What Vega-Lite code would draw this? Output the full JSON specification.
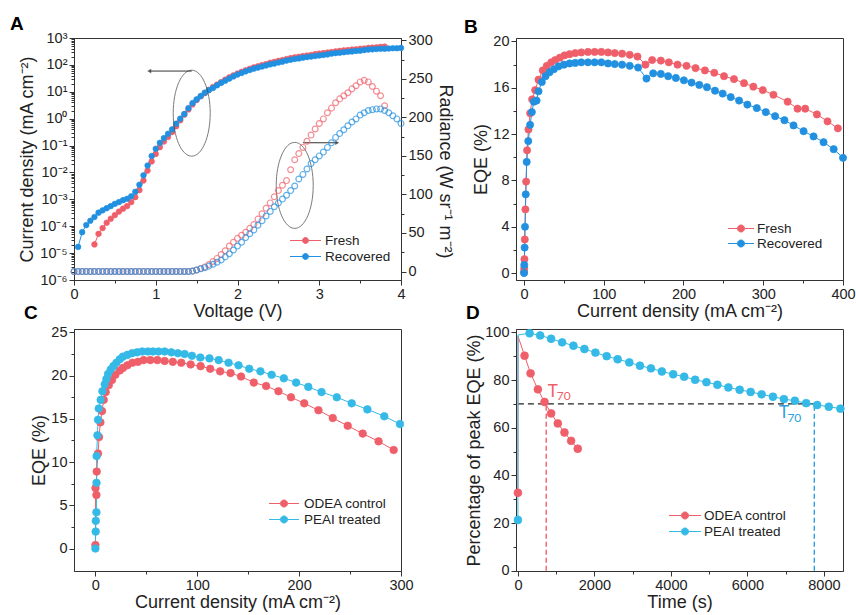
{
  "$schema": "https://vega.github.io/schema/vega-lite/v6.json",
  "padding": {"left": 9, "top": 14, "right": 5, "bottom": 5},
  "config": {
    "font": "Liberation Sans",
    "view": {"stroke": "#333", "strokeWidth": 1},
    "axis": {"labelFontSize": 14.5, "titleFontSize": 18, "titleFontWeight": "normal", "labelColor": "#222", "titleColor": "#222", "domainColor": "#333", "tickColor": "#333", "grid": false, "tickSize": 5, "labelPadding": 2, "titlePadding": 2, "labelFont": "Liberation Sans", "titleFont": "Liberation Sans", "labelFlush": false, "labelOverlap": false},
    "legend": {"labelFontSize": 13.5, "labelFont": "Liberation Sans", "labelColor": "#222"},
    "title": {"anchor": "start", "frame": "group", "fontSize": 19, "fontWeight": "bold", "font": "Liberation Sans", "color": "#000", "offset": 7}
  },
  "datasets": {
    "aJ": [
      {"V":0.25,"J":2.1e-5,"s":"Fresh"},{"V":0.3,"J":5.2e-5,"s":"Fresh"},{"V":0.35,"J":8.5e-5,"s":"Fresh"},{"V":0.4,"J":1.35e-4,"s":"Fresh"},{"V":0.45,"J":1.9e-4,"s":"Fresh"},{"V":0.5,"J":2.6e-4,"s":"Fresh"},{"V":0.55,"J":3.5e-4,"s":"Fresh"},{"V":0.6,"J":4.5e-4,"s":"Fresh"},{"V":0.65,"J":5.6e-4,"s":"Fresh"},{"V":0.7,"J":7.9e-4,"s":"Fresh"},{"V":0.75,"J":1.2e-3,"s":"Fresh"},{"V":0.8,"J":2.2e-3,"s":"Fresh"},{"V":0.85,"J":5.0e-3,"s":"Fresh"},{"V":0.9,"J":0.0117,"s":"Fresh"},{"V":0.95,"J":0.0257,"s":"Fresh"},{"V":1.0,"J":0.049,"s":"Fresh"},{"V":1.05,"J":0.087,"s":"Fresh"},{"V":1.1,"J":0.141,"s":"Fresh"},{"V":1.15,"J":0.209,"s":"Fresh"},{"V":1.2,"J":0.316,"s":"Fresh"},{"V":1.25,"J":0.525,"s":"Fresh"},{"V":1.3,"J":0.87,"s":"Fresh"},{"V":1.35,"J":1.41,"s":"Fresh"},{"V":1.4,"J":2.19,"s":"Fresh"},{"V":1.45,"J":3.39,"s":"Fresh"},{"V":1.5,"J":4.9,"s":"Fresh"},{"V":1.55,"J":6.8,"s":"Fresh"},{"V":1.6,"J":8.9,"s":"Fresh"},{"V":1.65,"J":11.7,"s":"Fresh"},{"V":1.7,"J":15.1,"s":"Fresh"},{"V":1.75,"J":18.6,"s":"Fresh"},{"V":1.8,"J":22.9,"s":"Fresh"},{"V":1.85,"J":28.2,"s":"Fresh"},{"V":1.9,"J":34.7,"s":"Fresh"},{"V":1.95,"J":40.7,"s":"Fresh"},{"V":2.0,"J":47.9,"s":"Fresh"},{"V":2.05,"J":55,"s":"Fresh"},{"V":2.1,"J":63,"s":"Fresh"},{"V":2.15,"J":72,"s":"Fresh"},{"V":2.2,"J":81,"s":"Fresh"},{"V":2.25,"J":89,"s":"Fresh"},{"V":2.3,"J":98,"s":"Fresh"},{"V":2.35,"J":107,"s":"Fresh"},{"V":2.4,"J":120,"s":"Fresh"},{"V":2.45,"J":129,"s":"Fresh"},{"V":2.5,"J":141,"s":"Fresh"},{"V":2.55,"J":151,"s":"Fresh"},{"V":2.6,"J":166,"s":"Fresh"},{"V":2.65,"J":178,"s":"Fresh"},{"V":2.7,"J":191,"s":"Fresh"},{"V":2.75,"J":200,"s":"Fresh"},{"V":2.8,"J":214,"s":"Fresh"},{"V":2.85,"J":224,"s":"Fresh"},{"V":2.9,"J":234,"s":"Fresh"},{"V":2.95,"J":251,"s":"Fresh"},{"V":3.0,"J":263,"s":"Fresh"},{"V":3.05,"J":275,"s":"Fresh"},{"V":3.1,"J":288,"s":"Fresh"},{"V":3.15,"J":302,"s":"Fresh"},{"V":3.2,"J":316,"s":"Fresh"},{"V":3.25,"J":331,"s":"Fresh"},{"V":3.3,"J":347,"s":"Fresh"},{"V":3.35,"J":355,"s":"Fresh"},{"V":3.4,"J":372,"s":"Fresh"},{"V":3.45,"J":380,"s":"Fresh"},{"V":3.5,"J":398,"s":"Fresh"},{"V":3.55,"J":407,"s":"Fresh"},{"V":3.6,"J":427,"s":"Fresh"},{"V":3.65,"J":437,"s":"Fresh"},{"V":3.7,"J":447,"s":"Fresh"},{"V":3.75,"J":468,"s":"Fresh"},{"V":3.8,"J":479,"s":"Fresh"},
      {"V":0.05,"J":1.7e-5,"s":"Recovered"},{"V":0.1,"J":6.0e-5,"s":"Recovered"},{"V":0.15,"J":1.1e-4,"s":"Recovered"},{"V":0.2,"J":1.6e-4,"s":"Recovered"},{"V":0.25,"J":2.2e-4,"s":"Recovered"},{"V":0.3,"J":3.2e-4,"s":"Recovered"},{"V":0.35,"J":3.9e-4,"s":"Recovered"},{"V":0.4,"J":4.7e-4,"s":"Recovered"},{"V":0.45,"J":5.6e-4,"s":"Recovered"},{"V":0.5,"J":6.8e-4,"s":"Recovered"},{"V":0.55,"J":7.9e-4,"s":"Recovered"},{"V":0.6,"J":9.3e-4,"s":"Recovered"},{"V":0.65,"J":1.05e-3,"s":"Recovered"},{"V":0.7,"J":1.3e-3,"s":"Recovered"},{"V":0.75,"J":1.9e-3,"s":"Recovered"},{"V":0.8,"J":3.5e-3,"s":"Recovered"},{"V":0.85,"J":7.8e-3,"s":"Recovered"},{"V":0.9,"J":0.018,"s":"Recovered"},{"V":0.95,"J":0.041,"s":"Recovered"},{"V":1.0,"J":0.076,"s":"Recovered"},{"V":1.05,"J":0.126,"s":"Recovered"},{"V":1.1,"J":0.19,"s":"Recovered"},{"V":1.15,"J":0.275,"s":"Recovered"},{"V":1.2,"J":0.4,"s":"Recovered"},{"V":1.25,"J":0.65,"s":"Recovered"},{"V":1.3,"J":1.0,"s":"Recovered"},{"V":1.35,"J":1.5,"s":"Recovered"},{"V":1.4,"J":2.45,"s":"Recovered"},{"V":1.45,"J":3.8,"s":"Recovered"},{"V":1.5,"J":5.2,"s":"Recovered"},{"V":1.55,"J":6.9,"s":"Recovered"},{"V":1.6,"J":9.3,"s":"Recovered"},{"V":1.65,"J":11.5,"s":"Recovered"},{"V":1.7,"J":13.8,"s":"Recovered"},{"V":1.75,"J":17.4,"s":"Recovered"},{"V":1.8,"J":21.4,"s":"Recovered"},{"V":1.85,"J":25.7,"s":"Recovered"},{"V":1.9,"J":30.9,"s":"Recovered"},{"V":1.95,"J":37.2,"s":"Recovered"},{"V":2.0,"J":43.7,"s":"Recovered"},{"V":2.05,"J":50,"s":"Recovered"},{"V":2.1,"J":57.5,"s":"Recovered"},{"V":2.15,"J":64.6,"s":"Recovered"},{"V":2.2,"J":72.4,"s":"Recovered"},{"V":2.25,"J":79.4,"s":"Recovered"},{"V":2.3,"J":87.1,"s":"Recovered"},{"V":2.35,"J":95.5,"s":"Recovered"},{"V":2.4,"J":104.7,"s":"Recovered"},{"V":2.45,"J":112,"s":"Recovered"},{"V":2.5,"J":123,"s":"Recovered"},{"V":2.55,"J":132,"s":"Recovered"},{"V":2.6,"J":145,"s":"Recovered"},{"V":2.65,"J":155,"s":"Recovered"},{"V":2.7,"J":166,"s":"Recovered"},{"V":2.75,"J":174,"s":"Recovered"},{"V":2.8,"J":186,"s":"Recovered"},{"V":2.85,"J":195,"s":"Recovered"},{"V":2.9,"J":204,"s":"Recovered"},{"V":2.95,"J":214,"s":"Recovered"},{"V":3.0,"J":224,"s":"Recovered"},{"V":3.05,"J":234,"s":"Recovered"},{"V":3.1,"J":245,"s":"Recovered"},{"V":3.15,"J":263,"s":"Recovered"},{"V":3.2,"J":275,"s":"Recovered"},{"V":3.25,"J":282,"s":"Recovered"},{"V":3.3,"J":295,"s":"Recovered"},{"V":3.35,"J":309,"s":"Recovered"},{"V":3.4,"J":316,"s":"Recovered"},{"V":3.45,"J":331,"s":"Recovered"},{"V":3.5,"J":339,"s":"Recovered"},{"V":3.55,"J":355,"s":"Recovered"},{"V":3.6,"J":372,"s":"Recovered"},{"V":3.65,"J":380,"s":"Recovered"},{"V":3.7,"J":389,"s":"Recovered"},{"V":3.75,"J":398,"s":"Recovered"},{"V":3.8,"J":398,"s":"Recovered"},{"V":3.85,"J":407,"s":"Recovered"},{"V":3.9,"J":417,"s":"Recovered"},{"V":3.95,"J":417,"s":"Recovered"},{"V":4.0,"J":427,"s":"Recovered"}
    ],
    "aR": [
      {"V":0,"R":0,"s":"Fresh"},{"V":0.05,"R":0,"s":"Fresh"},{"V":0.1,"R":0,"s":"Fresh"},{"V":0.15,"R":0,"s":"Fresh"},{"V":0.2,"R":0,"s":"Fresh"},{"V":0.25,"R":0,"s":"Fresh"},{"V":0.3,"R":0,"s":"Fresh"},{"V":0.35,"R":0,"s":"Fresh"},{"V":0.4,"R":0,"s":"Fresh"},{"V":0.45,"R":0,"s":"Fresh"},{"V":0.5,"R":0,"s":"Fresh"},{"V":0.55,"R":0,"s":"Fresh"},{"V":0.6,"R":0,"s":"Fresh"},{"V":0.65,"R":0,"s":"Fresh"},{"V":0.7,"R":0,"s":"Fresh"},{"V":0.75,"R":0,"s":"Fresh"},{"V":0.8,"R":0,"s":"Fresh"},{"V":0.85,"R":0,"s":"Fresh"},{"V":0.9,"R":0,"s":"Fresh"},{"V":0.95,"R":0,"s":"Fresh"},{"V":1.0,"R":0,"s":"Fresh"},{"V":1.05,"R":0,"s":"Fresh"},{"V":1.1,"R":0,"s":"Fresh"},{"V":1.15,"R":0,"s":"Fresh"},{"V":1.2,"R":0,"s":"Fresh"},{"V":1.25,"R":0,"s":"Fresh"},{"V":1.3,"R":0,"s":"Fresh"},{"V":1.35,"R":0,"s":"Fresh"},{"V":1.4,"R":0,"s":"Fresh"},{"V":1.45,"R":0.5,"s":"Fresh"},{"V":1.5,"R":2,"s":"Fresh"},{"V":1.55,"R":4,"s":"Fresh"},{"V":1.6,"R":6,"s":"Fresh"},{"V":1.65,"R":9,"s":"Fresh"},{"V":1.7,"R":13,"s":"Fresh"},{"V":1.75,"R":17,"s":"Fresh"},{"V":1.8,"R":22,"s":"Fresh"},{"V":1.85,"R":27,"s":"Fresh"},{"V":1.9,"R":33,"s":"Fresh"},{"V":1.95,"R":38,"s":"Fresh"},{"V":2.0,"R":43,"s":"Fresh"},{"V":2.05,"R":47,"s":"Fresh"},{"V":2.1,"R":51,"s":"Fresh"},{"V":2.15,"R":56,"s":"Fresh"},{"V":2.2,"R":61,"s":"Fresh"},{"V":2.25,"R":68,"s":"Fresh"},{"V":2.3,"R":75,"s":"Fresh"},{"V":2.35,"R":82,"s":"Fresh"},{"V":2.4,"R":89,"s":"Fresh"},{"V":2.45,"R":97,"s":"Fresh"},{"V":2.5,"R":105,"s":"Fresh"},{"V":2.55,"R":112,"s":"Fresh"},{"V":2.6,"R":118,"s":"Fresh"},{"V":2.65,"R":132,"s":"Fresh"},{"V":2.7,"R":145,"s":"Fresh"},{"V":2.75,"R":153,"s":"Fresh"},{"V":2.8,"R":161,"s":"Fresh"},{"V":2.85,"R":169,"s":"Fresh"},{"V":2.9,"R":177,"s":"Fresh"},{"V":2.95,"R":185,"s":"Fresh"},{"V":3.0,"R":192,"s":"Fresh"},{"V":3.05,"R":198,"s":"Fresh"},{"V":3.1,"R":206,"s":"Fresh"},{"V":3.15,"R":212,"s":"Fresh"},{"V":3.2,"R":219,"s":"Fresh"},{"V":3.25,"R":224,"s":"Fresh"},{"V":3.3,"R":228,"s":"Fresh"},{"V":3.35,"R":232,"s":"Fresh"},{"V":3.4,"R":237,"s":"Fresh"},{"V":3.45,"R":241,"s":"Fresh"},{"V":3.5,"R":246,"s":"Fresh"},{"V":3.55,"R":248,"s":"Fresh"},{"V":3.6,"R":246,"s":"Fresh"},{"V":3.65,"R":240,"s":"Fresh"},{"V":3.7,"R":234,"s":"Fresh"},{"V":3.75,"R":228,"s":"Fresh"},{"V":3.8,"R":215,"s":"Fresh"},
      {"V":0,"R":0,"s":"Recovered"},{"V":0.05,"R":0,"s":"Recovered"},{"V":0.1,"R":0,"s":"Recovered"},{"V":0.15,"R":0,"s":"Recovered"},{"V":0.2,"R":0,"s":"Recovered"},{"V":0.25,"R":0,"s":"Recovered"},{"V":0.3,"R":0,"s":"Recovered"},{"V":0.35,"R":0,"s":"Recovered"},{"V":0.4,"R":0,"s":"Recovered"},{"V":0.45,"R":0,"s":"Recovered"},{"V":0.5,"R":0,"s":"Recovered"},{"V":0.55,"R":0,"s":"Recovered"},{"V":0.6,"R":0,"s":"Recovered"},{"V":0.65,"R":0,"s":"Recovered"},{"V":0.7,"R":0,"s":"Recovered"},{"V":0.75,"R":0,"s":"Recovered"},{"V":0.8,"R":0,"s":"Recovered"},{"V":0.85,"R":0,"s":"Recovered"},{"V":0.9,"R":0,"s":"Recovered"},{"V":0.95,"R":0,"s":"Recovered"},{"V":1.0,"R":0,"s":"Recovered"},{"V":1.05,"R":0,"s":"Recovered"},{"V":1.1,"R":0,"s":"Recovered"},{"V":1.15,"R":0,"s":"Recovered"},{"V":1.2,"R":0,"s":"Recovered"},{"V":1.25,"R":0,"s":"Recovered"},{"V":1.3,"R":0,"s":"Recovered"},{"V":1.35,"R":0,"s":"Recovered"},{"V":1.4,"R":0,"s":"Recovered"},{"V":1.45,"R":0.5,"s":"Recovered"},{"V":1.5,"R":2,"s":"Recovered"},{"V":1.55,"R":3.5,"s":"Recovered"},{"V":1.6,"R":5,"s":"Recovered"},{"V":1.65,"R":7,"s":"Recovered"},{"V":1.7,"R":9.5,"s":"Recovered"},{"V":1.75,"R":12,"s":"Recovered"},{"V":1.8,"R":15,"s":"Recovered"},{"V":1.85,"R":19,"s":"Recovered"},{"V":1.9,"R":23,"s":"Recovered"},{"V":1.95,"R":28,"s":"Recovered"},{"V":2.0,"R":33,"s":"Recovered"},{"V":2.05,"R":38,"s":"Recovered"},{"V":2.1,"R":44,"s":"Recovered"},{"V":2.15,"R":49,"s":"Recovered"},{"V":2.2,"R":54,"s":"Recovered"},{"V":2.25,"R":60,"s":"Recovered"},{"V":2.3,"R":66,"s":"Recovered"},{"V":2.35,"R":72,"s":"Recovered"},{"V":2.4,"R":78,"s":"Recovered"},{"V":2.45,"R":84,"s":"Recovered"},{"V":2.5,"R":89,"s":"Recovered"},{"V":2.55,"R":94,"s":"Recovered"},{"V":2.6,"R":99,"s":"Recovered"},{"V":2.65,"R":105,"s":"Recovered"},{"V":2.7,"R":111,"s":"Recovered"},{"V":2.75,"R":120,"s":"Recovered"},{"V":2.8,"R":126,"s":"Recovered"},{"V":2.85,"R":133,"s":"Recovered"},{"V":2.9,"R":140,"s":"Recovered"},{"V":2.95,"R":145,"s":"Recovered"},{"V":3.0,"R":150,"s":"Recovered"},{"V":3.05,"R":155,"s":"Recovered"},{"V":3.1,"R":161,"s":"Recovered"},{"V":3.15,"R":167,"s":"Recovered"},{"V":3.2,"R":174,"s":"Recovered"},{"V":3.25,"R":179,"s":"Recovered"},{"V":3.3,"R":184,"s":"Recovered"},{"V":3.35,"R":189,"s":"Recovered"},{"V":3.4,"R":194,"s":"Recovered"},{"V":3.45,"R":198,"s":"Recovered"},{"V":3.5,"R":203,"s":"Recovered"},{"V":3.55,"R":206,"s":"Recovered"},{"V":3.6,"R":209,"s":"Recovered"},{"V":3.65,"R":210,"s":"Recovered"},{"V":3.7,"R":211,"s":"Recovered"},{"V":3.75,"R":211,"s":"Recovered"},{"V":3.8,"R":209,"s":"Recovered"},{"V":3.85,"R":206,"s":"Recovered"},{"V":3.9,"R":202,"s":"Recovered"},{"V":3.95,"R":198,"s":"Recovered"},{"V":4.0,"R":192,"s":"Recovered"}
    ],
    "b": [
      {"j":0.1,"e":0.1,"s":"Fresh"},{"j":0.3,"e":0.4,"s":"Fresh"},{"j":0.6,"e":1.2,"s":"Fresh"},{"j":1.0,"e":2.9,"s":"Fresh"},{"j":1.8,"e":5.5,"s":"Fresh"},{"j":2.7,"e":7.9,"s":"Fresh"},{"j":3.9,"e":10.6,"s":"Fresh"},{"j":5.6,"e":12.4,"s":"Fresh"},{"j":7.7,"e":13.8,"s":"Fresh"},{"j":10.2,"e":15.0,"s":"Fresh"},{"j":14.0,"e":15.8,"s":"Fresh"},{"j":18.2,"e":16.7,"s":"Fresh"},{"j":23.6,"e":17.5,"s":"Fresh"},{"j":28.6,"e":17.9,"s":"Fresh"},{"j":34.2,"e":18.2,"s":"Fresh"},{"j":39.2,"e":18.4,"s":"Fresh"},{"j":45,"e":18.6,"s":"Fresh"},{"j":50.9,"e":18.8,"s":"Fresh"},{"j":57.2,"e":18.9,"s":"Fresh"},{"j":64.3,"e":19.0,"s":"Fresh"},{"j":71.8,"e":19.05,"s":"Fresh"},{"j":80.2,"e":19.1,"s":"Fresh"},{"j":88.6,"e":19.1,"s":"Fresh"},{"j":97,"e":19.1,"s":"Fresh"},{"j":105.4,"e":19.05,"s":"Fresh"},{"j":113.8,"e":19.0,"s":"Fresh"},{"j":123,"e":18.95,"s":"Fresh"},{"j":132.6,"e":18.85,"s":"Fresh"},{"j":142.3,"e":18.7,"s":"Fresh"},{"j":152.3,"e":18.0,"s":"Fresh"},{"j":160.7,"e":18.4,"s":"Fresh"},{"j":171.6,"e":18.35,"s":"Fresh"},{"j":181.6,"e":18.2,"s":"Fresh"},{"j":192.5,"e":18.0,"s":"Fresh"},{"j":203.8,"e":17.9,"s":"Fresh"},{"j":215.1,"e":17.7,"s":"Fresh"},{"j":226.9,"e":17.5,"s":"Fresh"},{"j":238.6,"e":17.3,"s":"Fresh"},{"j":250.8,"e":17.0,"s":"Fresh"},{"j":263.3,"e":16.75,"s":"Fresh"},{"j":275.9,"e":16.4,"s":"Fresh"},{"j":287.6,"e":16.1,"s":"Fresh"},{"j":299.4,"e":15.8,"s":"Fresh"},{"j":312.8,"e":15.4,"s":"Fresh"},{"j":330.6,"e":14.8,"s":"Fresh"},{"j":343,"e":14.2,"s":"Fresh"},{"j":352.6,"e":14.2,"s":"Fresh"},{"j":367.3,"e":13.7,"s":"Fresh"},{"j":380.6,"e":13.1,"s":"Fresh"},{"j":393.6,"e":12.5,"s":"Fresh"},
      {"j":0.1,"e":0,"s":"Recovered"},{"j":0.4,"e":0.7,"s":"Recovered"},{"j":0.8,"e":2.2,"s":"Recovered"},{"j":1.3,"e":4.0,"s":"Recovered"},{"j":2.2,"e":6.8,"s":"Recovered"},{"j":3.4,"e":9.6,"s":"Recovered"},{"j":5.4,"e":11.4,"s":"Recovered"},{"j":7.7,"e":12.8,"s":"Recovered"},{"j":9.9,"e":13.9,"s":"Recovered"},{"j":12.4,"e":14.8,"s":"Recovered"},{"j":15.8,"e":14.9,"s":"Recovered"},{"j":18.2,"e":15.7,"s":"Recovered"},{"j":22.4,"e":16.5,"s":"Recovered"},{"j":27,"e":17.0,"s":"Recovered"},{"j":32.1,"e":17.35,"s":"Recovered"},{"j":37.5,"e":17.6,"s":"Recovered"},{"j":43.4,"e":17.85,"s":"Recovered"},{"j":50.1,"e":18.0,"s":"Recovered"},{"j":57.2,"e":18.1,"s":"Recovered"},{"j":64.3,"e":18.15,"s":"Recovered"},{"j":71.8,"e":18.2,"s":"Recovered"},{"j":80.2,"e":18.2,"s":"Recovered"},{"j":88.6,"e":18.2,"s":"Recovered"},{"j":97,"e":18.2,"s":"Recovered"},{"j":105.4,"e":18.1,"s":"Recovered"},{"j":113.8,"e":18.05,"s":"Recovered"},{"j":123,"e":18.0,"s":"Recovered"},{"j":132.6,"e":17.9,"s":"Recovered"},{"j":143.1,"e":17.75,"s":"Recovered"},{"j":153.6,"e":16.8,"s":"Recovered"},{"j":162,"e":17.25,"s":"Recovered"},{"j":171.6,"e":17.2,"s":"Recovered"},{"j":180.8,"e":17.0,"s":"Recovered"},{"j":190.4,"e":16.85,"s":"Recovered"},{"j":200.5,"e":16.65,"s":"Recovered"},{"j":210.1,"e":16.45,"s":"Recovered"},{"j":219.8,"e":16.25,"s":"Recovered"},{"j":229.4,"e":16.05,"s":"Recovered"},{"j":239.5,"e":15.75,"s":"Recovered"},{"j":249.1,"e":15.5,"s":"Recovered"},{"j":259.2,"e":15.2,"s":"Recovered"},{"j":269.7,"e":14.9,"s":"Recovered"},{"j":280.1,"e":14.55,"s":"Recovered"},{"j":291.9,"e":14.25,"s":"Recovered"},{"j":303.2,"e":13.9,"s":"Recovered"},{"j":314.9,"e":13.55,"s":"Recovered"},{"j":326.6,"e":13.2,"s":"Recovered"},{"j":338,"e":12.75,"s":"Recovered"},{"j":350.6,"e":12.25,"s":"Recovered"},{"j":363.1,"e":11.8,"s":"Recovered"},{"j":375.6,"e":11.3,"s":"Recovered"},{"j":388.3,"e":10.7,"s":"Recovered"},{"j":400,"e":9.95,"s":"Recovered"}
    ],
    "c": [
      {"j":0,"e":0.4,"s":"ODEA control"},{"j":0.1,"e":7.0,"s":"ODEA control"},{"j":1,"e":6.2,"s":"ODEA control"},{"j":1.3,"e":8.9,"s":"ODEA control"},{"j":2.6,"e":11.0,"s":"ODEA control"},{"j":3.6,"e":12.9,"s":"ODEA control"},{"j":4.9,"e":14.6,"s":"ODEA control"},{"j":6.5,"e":15.9,"s":"ODEA control"},{"j":8.2,"e":17.2,"s":"ODEA control"},{"j":10.1,"e":18.1,"s":"ODEA control"},{"j":13.1,"e":18.9,"s":"ODEA control"},{"j":16.3,"e":19.5,"s":"ODEA control"},{"j":19.6,"e":20.1,"s":"ODEA control"},{"j":23.9,"e":20.6,"s":"ODEA control"},{"j":27.1,"e":20.9,"s":"ODEA control"},{"j":31.4,"e":21.2,"s":"ODEA control"},{"j":36.3,"e":21.5,"s":"ODEA control"},{"j":41.8,"e":21.6,"s":"ODEA control"},{"j":47.4,"e":21.8,"s":"ODEA control"},{"j":53.9,"e":21.8,"s":"ODEA control"},{"j":60.8,"e":21.8,"s":"ODEA control"},{"j":68,"e":21.7,"s":"ODEA control"},{"j":76,"e":21.6,"s":"ODEA control"},{"j":84.3,"e":21.5,"s":"ODEA control"},{"j":93.5,"e":21.3,"s":"ODEA control"},{"j":103.3,"e":21.1,"s":"ODEA control"},{"j":112.7,"e":20.8,"s":"ODEA control"},{"j":122.5,"e":20.5,"s":"ODEA control"},{"j":132.7,"e":20.3,"s":"ODEA control"},{"j":143,"e":19.9,"s":"ODEA control"},{"j":155.5,"e":19.2,"s":"ODEA control"},{"j":167.6,"e":18.8,"s":"ODEA control"},{"j":179.7,"e":18.2,"s":"ODEA control"},{"j":192,"e":17.5,"s":"ODEA control"},{"j":205,"e":16.8,"s":"ODEA control"},{"j":219,"e":16.0,"s":"ODEA control"},{"j":233,"e":15.1,"s":"ODEA control"},{"j":247.7,"e":14.2,"s":"ODEA control"},{"j":262.4,"e":13.3,"s":"ODEA control"},{"j":278,"e":12.4,"s":"ODEA control"},{"j":292.8,"e":11.4,"s":"ODEA control"},
      {"j":0,"e":0,"s":"PEAI treated"},{"j":0.3,"e":1.96,"s":"PEAI treated"},{"j":0.4,"e":3.2,"s":"PEAI treated"},{"j":1,"e":4.2,"s":"PEAI treated"},{"j":1.1,"e":7.6,"s":"PEAI treated"},{"j":1.2,"e":10.7,"s":"PEAI treated"},{"j":2,"e":13.1,"s":"PEAI treated"},{"j":2.6,"e":14.9,"s":"PEAI treated"},{"j":3.3,"e":16.2,"s":"PEAI treated"},{"j":5.2,"e":17.2,"s":"PEAI treated"},{"j":6.9,"e":18.2,"s":"PEAI treated"},{"j":9.2,"e":19.0,"s":"PEAI treated"},{"j":10.8,"e":19.6,"s":"PEAI treated"},{"j":12.4,"e":20.2,"s":"PEAI treated"},{"j":15,"e":20.7,"s":"PEAI treated"},{"j":17.6,"e":21.1,"s":"PEAI treated"},{"j":20.6,"e":21.5,"s":"PEAI treated"},{"j":23.9,"e":21.9,"s":"PEAI treated"},{"j":27,"e":22.2,"s":"PEAI treated"},{"j":31.4,"e":22.4,"s":"PEAI treated"},{"j":36,"e":22.6,"s":"PEAI treated"},{"j":41,"e":22.7,"s":"PEAI treated"},{"j":46,"e":22.8,"s":"PEAI treated"},{"j":51.6,"e":22.8,"s":"PEAI treated"},{"j":56.5,"e":22.8,"s":"PEAI treated"},{"j":62,"e":22.8,"s":"PEAI treated"},{"j":68,"e":22.8,"s":"PEAI treated"},{"j":74.5,"e":22.7,"s":"PEAI treated"},{"j":81,"e":22.6,"s":"PEAI treated"},{"j":87.6,"e":22.5,"s":"PEAI treated"},{"j":94.8,"e":22.3,"s":"PEAI treated"},{"j":103,"e":22.1,"s":"PEAI treated"},{"j":112,"e":22.0,"s":"PEAI treated"},{"j":121,"e":21.8,"s":"PEAI treated"},{"j":130.7,"e":21.5,"s":"PEAI treated"},{"j":140.5,"e":21.2,"s":"PEAI treated"},{"j":151,"e":20.8,"s":"PEAI treated"},{"j":162,"e":20.5,"s":"PEAI treated"},{"j":173,"e":20.1,"s":"PEAI treated"},{"j":185,"e":19.7,"s":"PEAI treated"},{"j":197,"e":19.2,"s":"PEAI treated"},{"j":209,"e":18.7,"s":"PEAI treated"},{"j":222,"e":18.1,"s":"PEAI treated"},{"j":237,"e":17.5,"s":"PEAI treated"},{"j":251.6,"e":16.8,"s":"PEAI treated"},{"j":267,"e":16.1,"s":"PEAI treated"},{"j":283.6,"e":15.3,"s":"PEAI treated"},{"j":299,"e":14.4,"s":"PEAI treated"}
    ],
    "d": [
      {"t":0,"p":32.7,"s":"ODEA control"},{"t":2,"p":98.4,"s":"ODEA control"},{"t":174,"p":90.2,"s":"ODEA control"},{"t":331,"p":82.8,"s":"ODEA control"},{"t":522,"p":76.1,"s":"ODEA control"},{"t":696,"p":70.8,"s":"ODEA control"},{"t":869,"p":66.0,"s":"ODEA control"},{"t":1043,"p":61.8,"s":"ODEA control"},{"t":1217,"p":58.0,"s":"ODEA control"},{"t":1391,"p":54.5,"s":"ODEA control"},{"t":1564,"p":51.2,"s":"ODEA control"},
      {"t":0,"p":21.3,"s":"PEAI treated"},{"t":3,"p":98.9,"s":"PEAI treated"},{"t":305,"p":99.6,"s":"PEAI treated"},{"t":582,"p":98.7,"s":"PEAI treated"},{"t":868,"p":97.3,"s":"PEAI treated"},{"t":1156,"p":95.8,"s":"PEAI treated"},{"t":1452,"p":94.4,"s":"PEAI treated"},{"t":1739,"p":93.0,"s":"PEAI treated"},{"t":2026,"p":91.5,"s":"PEAI treated"},{"t":2321,"p":90.0,"s":"PEAI treated"},{"t":2608,"p":88.7,"s":"PEAI treated"},{"t":2912,"p":87.4,"s":"PEAI treated"},{"t":3191,"p":86.0,"s":"PEAI treated"},{"t":3478,"p":84.9,"s":"PEAI treated"},{"t":3764,"p":83.6,"s":"PEAI treated"},{"t":4060,"p":82.4,"s":"PEAI treated"},{"t":4347,"p":81.4,"s":"PEAI treated"},{"t":4634,"p":80.1,"s":"PEAI treated"},{"t":4929,"p":79.1,"s":"PEAI treated"},{"t":5216,"p":78.0,"s":"PEAI treated"},{"t":5503,"p":76.9,"s":"PEAI treated"},{"t":5798,"p":75.9,"s":"PEAI treated"},{"t":6085,"p":75.0,"s":"PEAI treated"},{"t":6372,"p":74.0,"s":"PEAI treated"},{"t":6668,"p":73.0,"s":"PEAI treated"},{"t":6955,"p":72.0,"s":"PEAI treated"},{"t":7242,"p":71.3,"s":"PEAI treated"},{"t":7537,"p":70.3,"s":"PEAI treated"},{"t":7824,"p":69.5,"s":"PEAI treated"},{"t":8128,"p":68.8,"s":"PEAI treated"},{"t":8432,"p":68.0,"s":"PEAI treated"}
    ]
  },
  "columns": 2,
  "spacing": {"row": 49, "column": 115},
  "bounds": "flush",
  "resolve": {"scale": {"stroke": "independent", "fill": "independent"}, "legend": {"stroke": "independent", "fill": "independent"}},
  "concat": [
    {
      "width": 327, "height": 242,
      "title": {"text": "A", "dx": -64, "dy": 11},
      "layer": [
        {
          "layer": [
            {"data": {"name": "aJ"}, "mark": {"type": "line", "strokeWidth": 1},
             "encoding": {
               "x": {"field": "V", "type": "quantitative", "scale": {"domain": [0, 4], "nice": false}, "axis": {"orient": "bottom", "values": [0, 1, 2, 3, 4], "format": "d", "title": "Voltage (V)"}},
               "y": {"field": "J", "type": "quantitative", "scale": {"type": "log", "domain": [1e-6, 1000], "nice": false}, "axis": {"orient": "left", "values": [1e-6, 1e-5, 1e-4, 1e-3, 1e-2, 1e-1, 1, 10, 100, 1000], "labelExpr": "['10⁻⁶','10⁻⁵','10⁻⁴','10⁻³','10⁻²','10⁻¹','10⁰','10¹','10²','10³'][round(log(datum.value)/LN10)+6]", "title": "Current density (mA cm⁻²)", "titlePadding": 3}},
               "stroke": {"field": "s", "type": "nominal", "scale": {"domain": ["Fresh", "Recovered"], "range": ["#ef5f6a", "#2290e0"]},
                 "legend": {"orient": "none", "legendX": 223, "legendY": 194, "title": null, "symbolType": "M-1.94,0L-0.375,0M0.375,0L1.94,0M-0.375,0A0.375,0.375 0 1,1 0.375,0A0.375,0.375 0 1,1 -0.375,0Z", "symbolSize": 256, "symbolStrokeWidth": 1, "labelOffset": 11, "rowPadding": 1, "padding": 0}}
             }},
            {"data": {"name": "aJ"}, "mark": {"type": "point", "filled": true, "size": 32, "strokeWidth": 0.6, "opacity": 1},
             "encoding": {
               "x": {"field": "V", "type": "quantitative", "axis": null},
               "y": {"field": "J", "type": "quantitative", "axis": null},
               "fill": {"field": "s", "type": "nominal", "scale": {"domain": ["Fresh", "Recovered"], "range": ["#ef5f6a", "#2290e0"]},
                 "legend": {"orient": "none", "legendX": 223, "legendY": 194, "title": null, "symbolType": "M-1.94,0L-0.375,0M0.375,0L1.94,0M-0.375,0A0.375,0.375 0 1,1 0.375,0A0.375,0.375 0 1,1 -0.375,0Z", "symbolSize": 256, "symbolStrokeWidth": 1, "labelOffset": 11, "rowPadding": 1, "padding": 0}},
               "stroke": {"field": "s", "type": "nominal"}
             }},
            {"data": {"values": [{"V": 1.44, "J": 1.6}, {"V": 2.7, "J": 0.0033}]},
             "mark": {"type": "point", "shape": "M0,-1A0.43,1 0 1,1 0,1A0.43,1 0 1,1 0,-1Z", "size": 7396, "filled": false, "stroke": "#444", "strokeWidth": 1},
             "encoding": {"x": {"field": "V", "type": "quantitative", "axis": null}, "y": {"field": "J", "type": "quantitative", "axis": null}}},
            {"data": {"values": [{"V1": 0.92, "V2": 1.44, "J": 59}, {"V1": 2.8, "V2": 3.22, "J": 0.127}]},
             "mark": {"type": "rule", "stroke": "#333", "strokeWidth": 1},
             "encoding": {"x": {"field": "V1", "type": "quantitative", "axis": null}, "x2": {"field": "V2"}, "y": {"field": "J", "type": "quantitative", "axis": null}}},
            {"data": {"values": [{"V": 0.92, "J": 59}]},
             "mark": {"type": "point", "shape": "triangle-left", "filled": true, "fill": "#333", "size": 22},
             "encoding": {"x": {"field": "V", "type": "quantitative", "axis": null}, "y": {"field": "J", "type": "quantitative", "axis": null}}},
            {"data": {"values": [{"V": 3.22, "J": 0.127}]},
             "mark": {"type": "point", "shape": "triangle-right", "filled": true, "fill": "#333", "size": 22},
             "encoding": {"x": {"field": "V", "type": "quantitative", "axis": null}, "y": {"field": "J", "type": "quantitative", "axis": null}}},
            {"data": {"values": [{"V": 2, "J": 1}]},
             "mark": {"type": "point", "opacity": 0},
             "encoding": {"x": {"field": "V", "type": "quantitative", "axis": {"orient": "bottom", "values": [0.5, 1.5, 2.5, 3.5], "labels": false, "domain": false, "tickSize": 3, "title": null}},
               "y": {"field": "J", "type": "quantitative", "axis": {"orient": "left", "values": [2e-6,3e-6,4e-6,5e-6,6e-6,7e-6,8e-6,9e-6,2e-5,3e-5,4e-5,5e-5,6e-5,7e-5,8e-5,9e-5,2e-4,3e-4,4e-4,5e-4,6e-4,7e-4,8e-4,9e-4,2e-3,3e-3,4e-3,5e-3,6e-3,7e-3,8e-3,9e-3,0.02,0.03,0.04,0.05,0.06,0.07,0.08,0.09,0.2,0.3,0.4,0.5,0.6,0.7,0.8,0.9,2,3,4,5,6,7,8,9,20,30,40,50,60,70,80,90,200,300,400,500,600,700,800,900], "labels": false, "domain": false, "tickSize": 3, "title": null}}}}
          ],
          "resolve": {"axis": {"x": "independent", "y": "independent"}}
        },
        {
          "layer": [
            {"data": {"name": "aR"},
             "mark": {"type": "point", "filled": false, "size": 34, "strokeWidth": 1.2},
             "encoding": {
               "x": {"field": "V", "type": "quantitative", "axis": null},
               "y": {"field": "R", "type": "quantitative", "scale": {"domain": [-11, 303], "nice": false, "zero": false}, "axis": {"orient": "right", "values": [0, 50, 100, 150, 200, 250, 300], "title": "Radiance (W sr⁻¹ m⁻²)", "titlePadding": 3, "titleY": 133}},
               "stroke": {"field": "s", "type": "nominal"}
             }},
            {"data": {"values": [{"V": 2, "R": 100}]},
             "mark": {"type": "point", "opacity": 0},
             "encoding": {"x": {"field": "V", "type": "quantitative", "axis": null},
               "y": {"field": "R", "type": "quantitative", "axis": {"orient": "right", "values": [25, 75, 125, 175, 225, 275], "labels": false, "domain": false, "tickSize": 3, "title": null}}}}
          ],
          "resolve": {"axis": {"y": "independent"}}
        }
      ],
      "resolve": {"scale": {"y": "independent"}}
    },
    {
      "width": 327, "height": 242,
      "title": {"text": "B", "dx": -52, "dy": 11},
      "data": {"name": "b"},
      "layer": [
        {"mark": {"type": "line", "strokeWidth": 1},
         "encoding": {
           "x": {"field": "j", "type": "quantitative", "scale": {"domain": [-10, 400], "nice": false}, "axis": {"orient": "bottom", "values": [0, 100, 200, 300, 400], "title": "Current density (mA cm⁻²)"}},
           "y": {"field": "e", "type": "quantitative", "scale": {"domain": [-0.6, 20.3], "nice": false}, "axis": {"orient": "left", "values": [0, 4, 8, 12, 16, 20], "title": "EQE (%)", "titlePadding": 2}},
           "stroke": {"field": "s", "type": "nominal", "scale": {"domain": ["Fresh", "Recovered"], "range": ["#ef5f6a", "#2290e0"]},
             "legend": {"orient": "none", "legendX": 217.5, "legendY": 183, "title": null, "symbolType": "M-1.86,0L-0.5,0M0.5,0L1.86,0M-0.5,0A0.5,0.5 0 1,1 0.5,0A0.5,0.5 0 1,1 -0.5,0Z", "symbolSize": 196, "symbolStrokeWidth": 1, "labelOffset": 8.5, "rowPadding": 1, "padding": 0}}
         }},
        {"mark": {"type": "point", "filled": true, "size": 52, "strokeWidth": 0.7, "opacity": 1},
         "encoding": {
           "x": {"field": "j", "type": "quantitative", "axis": null},
           "y": {"field": "e", "type": "quantitative", "axis": null},
           "fill": {"field": "s", "type": "nominal", "scale": {"domain": ["Fresh", "Recovered"], "range": ["#ef5f6a", "#2290e0"]},
             "legend": {"orient": "none", "legendX": 217.5, "legendY": 183, "title": null, "symbolType": "M-1.86,0L-0.5,0M0.5,0L1.86,0M-0.5,0A0.5,0.5 0 1,1 0.5,0A0.5,0.5 0 1,1 -0.5,0Z", "symbolSize": 196, "symbolStrokeWidth": 1, "labelOffset": 8.5, "rowPadding": 1, "padding": 0}},
           "stroke": {"field": "s", "type": "nominal"}
         }},
        {"mark": {"type": "point", "opacity": 0},
         "encoding": {
           "x": {"field": "j", "type": "quantitative", "axis": {"orient": "bottom", "values": [50, 150, 250, 350], "labels": false, "domain": false, "tickSize": 3, "title": null}},
           "y": {"field": "e", "type": "quantitative", "axis": {"orient": "left", "values": [2, 6, 10, 14, 18], "labels": false, "domain": false, "tickSize": 3, "title": null}}
         }}
      ],
      "resolve": {"axis": {"x": "independent", "y": "independent"}}
    },
    {
      "width": 327, "height": 242,
      "title": {"text": "C", "dx": -50, "dy": 6},
      "data": {"name": "c"},
      "layer": [
        {"mark": {"type": "line", "strokeWidth": 1},
         "encoding": {
           "x": {"field": "j", "type": "quantitative", "scale": {"domain": [-21, 300], "nice": false}, "axis": {"orient": "bottom", "values": [0, 100, 200, 300], "title": "Current density (mA cm⁻²)"}},
           "y": {"field": "e", "type": "quantitative", "scale": {"domain": [-2.6, 25.4], "nice": false}, "axis": {"orient": "left", "values": [0, 5, 10, 15, 20, 25], "title": "EQE (%)"}},
           "stroke": {"field": "s", "type": "nominal", "scale": {"domain": ["ODEA control", "PEAI treated"], "range": ["#ef5f6a", "#35b9e6"]},
             "legend": {"orient": "none", "legendX": 201.5, "legendY": 166, "title": null, "symbolType": "M-1.875,0L-0.44,0M0.44,0L1.875,0M-0.44,0A0.44,0.44 0 1,1 0.44,0A0.44,0.44 0 1,1 -0.44,0Z", "symbolSize": 256, "symbolStrokeWidth": 1, "labelOffset": 11.5, "rowPadding": 1, "padding": 0}}
         }},
        {"mark": {"type": "point", "filled": true, "size": 58, "strokeWidth": 0.7, "opacity": 1},
         "encoding": {
           "x": {"field": "j", "type": "quantitative", "axis": null},
           "y": {"field": "e", "type": "quantitative", "axis": null},
           "fill": {"field": "s", "type": "nominal", "scale": {"domain": ["ODEA control", "PEAI treated"], "range": ["#ef5f6a", "#35b9e6"]},
             "legend": {"orient": "none", "legendX": 201.5, "legendY": 166, "title": null, "symbolType": "M-1.875,0L-0.44,0M0.44,0L1.875,0M-0.44,0A0.44,0.44 0 1,1 0.44,0A0.44,0.44 0 1,1 -0.44,0Z", "symbolSize": 256, "symbolStrokeWidth": 1, "labelOffset": 11.5, "rowPadding": 1, "padding": 0}},
           "stroke": {"field": "s", "type": "nominal"}
         }},
        {"mark": {"type": "point", "opacity": 0},
         "encoding": {
           "x": {"field": "j", "type": "quantitative", "axis": {"orient": "bottom", "values": [50, 150, 250], "labels": false, "domain": false, "tickSize": 3, "title": null}},
           "y": {"field": "e", "type": "quantitative", "axis": {"orient": "left", "values": [2.5, 7.5, 12.5, 17.5, 22.5], "labels": false, "domain": false, "tickSize": 3, "title": null}}
         }}
      ],
      "resolve": {"axis": {"x": "independent", "y": "independent"}}
    },
    {
      "width": 327, "height": 242,
      "title": {"text": "D", "dx": -50, "dy": 6},
      "layer": [
        {"data": {"values": [{"y": 70, "x1": 0, "x2": 7750}]},
         "mark": {"type": "rule", "stroke": "#222", "strokeWidth": 1.3, "strokeDash": [6, 4]},
         "encoding": {"x": {"field": "x1", "type": "quantitative", "scale": {"domain": [-50, 8500], "nice": false}, "axis": {"orient": "bottom", "values": [0, 2000, 4000, 6000, 8000], "format": "d", "title": "Time (s)"}}, "x2": {"field": "x2"},
                      "y": {"field": "y", "type": "quantitative", "scale": {"domain": [-0.1, 101.4], "nice": false}, "axis": {"orient": "left", "values": [0, 20, 40, 60, 80, 100], "title": "Percentage of peak EQE (%)", "titlePadding": 1}}}},
        {"data": {"values": [{"t": 740, "y1": 0, "y2": 70}]},
         "mark": {"type": "rule", "stroke": "#ef5f6a", "strokeWidth": 1.4, "strokeDash": [5, 3]},
         "encoding": {"x": {"field": "t", "type": "quantitative", "axis": null}, "y": {"field": "y1", "type": "quantitative", "axis": null}, "y2": {"field": "y2"}}},
        {"data": {"values": [{"t": 7750, "y1": 0, "y2": 70}]},
         "mark": {"type": "rule", "stroke": "#2aa0dc", "strokeWidth": 1.4, "strokeDash": [5, 3]},
         "encoding": {"x": {"field": "t", "type": "quantitative", "axis": null}, "y": {"field": "y1", "type": "quantitative", "axis": null}, "y2": {"field": "y2"}}},
        {"data": {"name": "d"}, "mark": {"type": "line", "strokeWidth": 1},
         "encoding": {
           "x": {"field": "t", "type": "quantitative", "axis": null},
           "y": {"field": "p", "type": "quantitative", "axis": null},
           "stroke": {"field": "s", "type": "nominal", "scale": {"domain": ["ODEA control", "PEAI treated"], "range": ["#ef5f6a", "#35b9e6"]},
             "legend": {"orient": "none", "legendX": 160.5, "legendY": 178, "title": null, "symbolType": "M-2,0L-0.44,0M0.44,0L2,0M-0.44,0A0.44,0.44 0 1,1 0.44,0A0.44,0.44 0 1,1 -0.44,0Z", "symbolSize": 256, "symbolStrokeWidth": 1, "labelOffset": 10.5, "rowPadding": 1, "padding": 0}}
         }},
        {"data": {"name": "d"}, "transform": [{"filter": "datum.t > 3 || datum.p < 50"}],
         "mark": {"type": "point", "filled": true, "size": 62, "strokeWidth": 0.7, "opacity": 1},
         "encoding": {
           "x": {"field": "t", "type": "quantitative", "axis": null},
           "y": {"field": "p", "type": "quantitative", "axis": null},
           "fill": {"field": "s", "type": "nominal", "scale": {"domain": ["ODEA control", "PEAI treated"], "range": ["#ef5f6a", "#35b9e6"]},
             "legend": {"orient": "none", "legendX": 160.5, "legendY": 178, "title": null, "symbolType": "M-2,0L-0.44,0M0.44,0L2,0M-0.44,0A0.44,0.44 0 1,1 0.44,0A0.44,0.44 0 1,1 -0.44,0Z", "symbolSize": 256, "symbolStrokeWidth": 1, "labelOffset": 10.5, "rowPadding": 1, "padding": 0}},
           "stroke": {"field": "s", "type": "nominal"}
         }},
        {"data": {"values": [{"t": 782, "p": 73.0, "txt": "T"}]},
         "mark": {"type": "text", "font": "Lato", "fontSize": 17, "fill": "#ef5f6a", "align": "left", "baseline": "alphabetic"},
         "encoding": {"x": {"field": "t", "type": "quantitative", "axis": null}, "y": {"field": "p", "type": "quantitative", "axis": null}, "text": {"field": "txt"}}},
        {"data": {"values": [{"t": 782, "p": 73.0, "txt": "70"}]},
         "mark": {"type": "text", "font": "Lato", "fontSize": 12, "fill": "#ef5f6a", "align": "left", "baseline": "alphabetic", "dx": 9, "dy": 3.5},
         "encoding": {"x": {"field": "t", "type": "quantitative", "axis": null}, "y": {"field": "p", "type": "quantitative", "axis": null}, "text": {"field": "txt"}}},
        {"data": {"values": [{"t": 6824, "p": 63.9, "txt": "T"}]},
         "mark": {"type": "text", "font": "Lato", "fontSize": 17, "fill": "#2aa0dc", "align": "left", "baseline": "alphabetic"},
         "encoding": {"x": {"field": "t", "type": "quantitative", "axis": null}, "y": {"field": "p", "type": "quantitative", "axis": null}, "text": {"field": "txt"}}},
        {"data": {"values": [{"t": 6824, "p": 63.9, "txt": "70"}]},
         "mark": {"type": "text", "font": "Lato", "fontSize": 12, "fill": "#2aa0dc", "align": "left", "baseline": "alphabetic", "dx": 8.5, "dy": 3.5},
         "encoding": {"x": {"field": "t", "type": "quantitative", "axis": null}, "y": {"field": "p", "type": "quantitative", "axis": null}, "text": {"field": "txt"}}},
        {"data": {"values": [{"t": 4000, "p": 50}]},
         "mark": {"type": "point", "opacity": 0},
         "encoding": {
           "x": {"field": "t", "type": "quantitative", "axis": {"orient": "bottom", "values": [1000, 3000, 5000, 7000], "labels": false, "domain": false, "tickSize": 3, "title": null}},
           "y": {"field": "p", "type": "quantitative", "axis": {"orient": "left", "values": [10, 30, 50, 70, 90], "labels": false, "domain": false, "tickSize": 3, "title": null}}
         }}
      ],
      "resolve": {"axis": {"x": "independent", "y": "independent"}}
    }
  ]
}
